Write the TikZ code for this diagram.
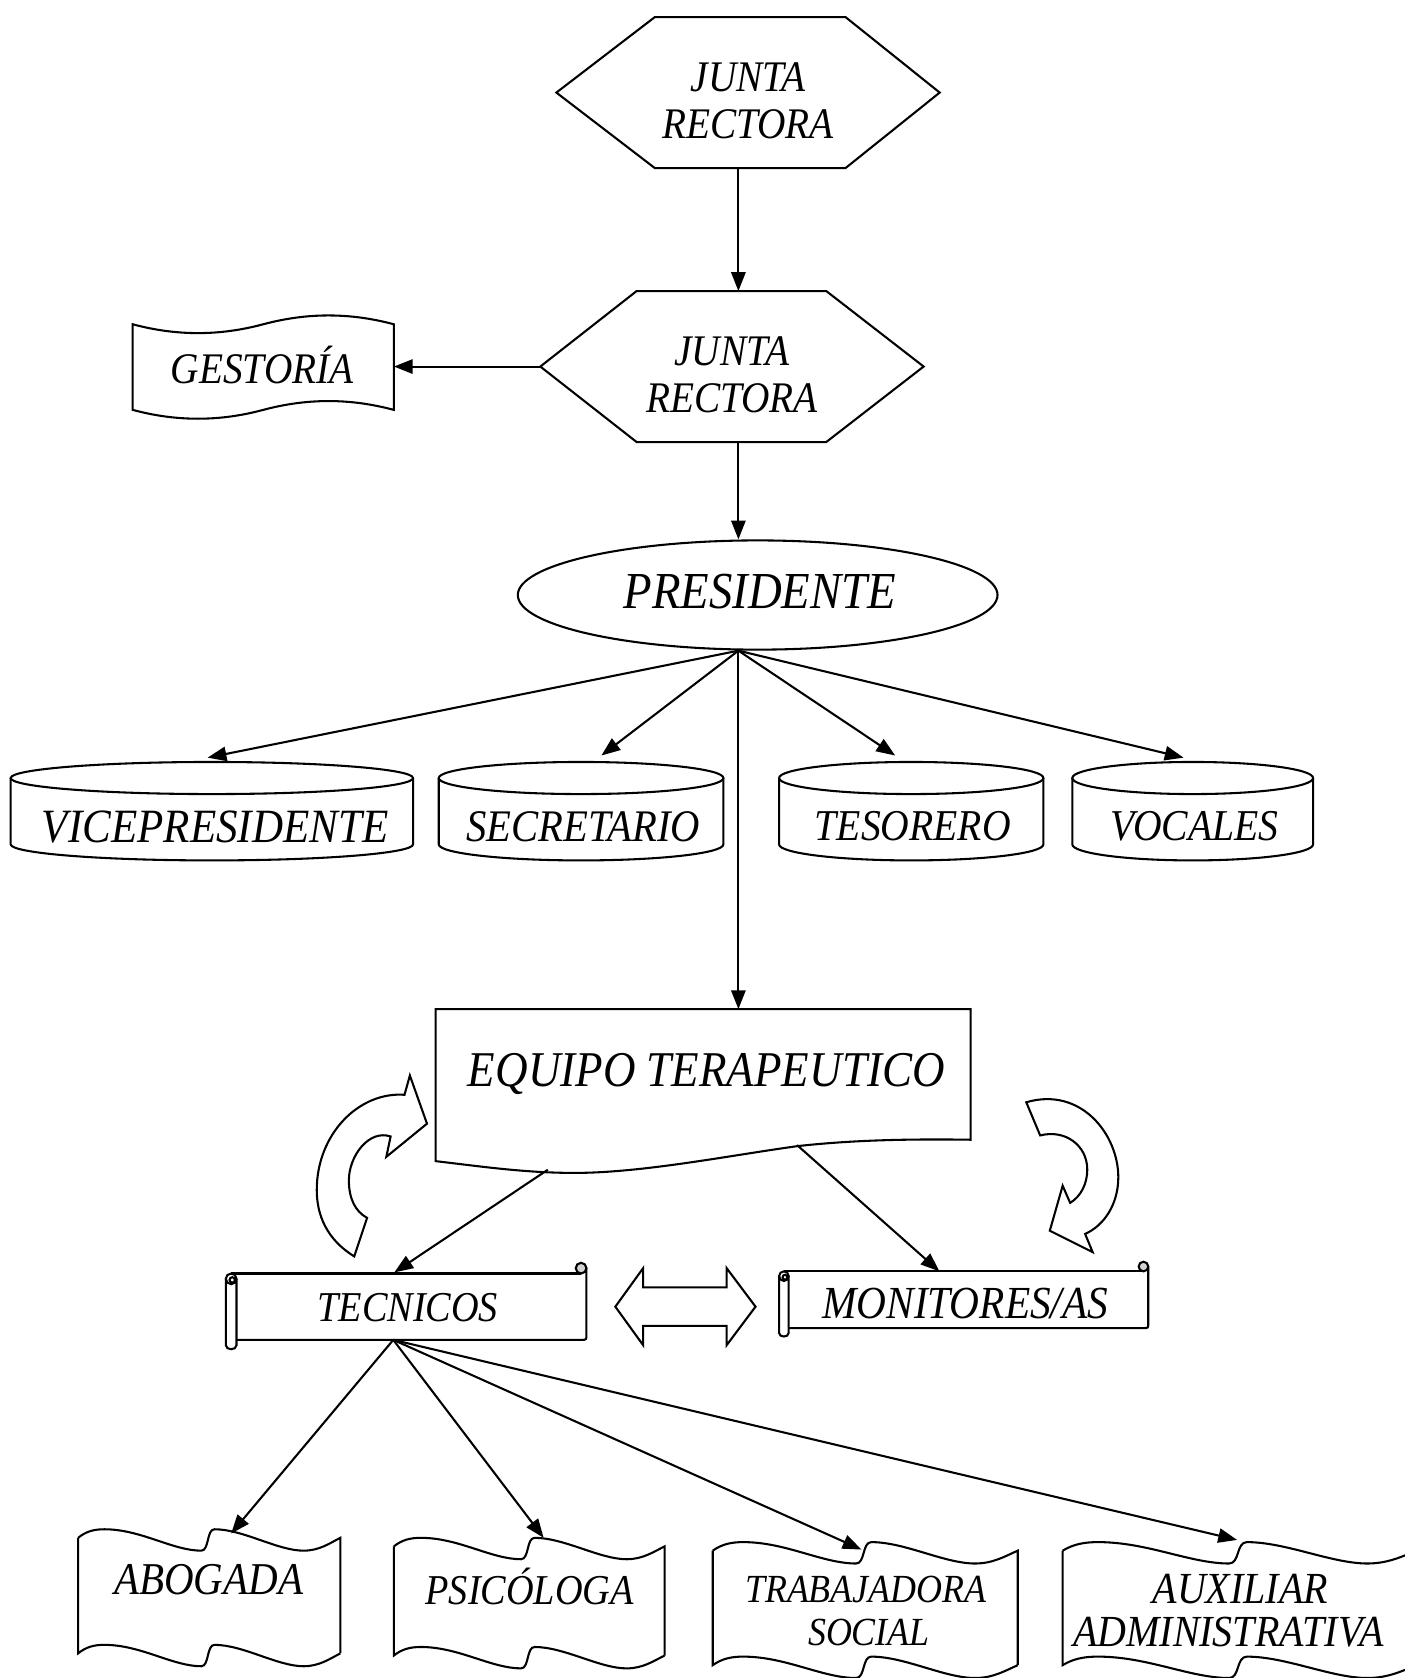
\documentclass[tikz,border=0pt]{standalone}
\usepackage{fontspec}
\newfontfamily\cors{Liberation Serif}[FakeStretch=0.9]
\usetikzlibrary{arrows.meta,calc,shapes.geometric}
% wave flag: x0, y0 (top baseline), width, height
\newcommand\wavebox[4]{%
  \begin{scope}[shift={(#1,#2)},xscale=#3/100]
    \draw (0,0) .. controls (3,-6) and (6,-8) .. (10,-8)
      .. controls (24,-8) and (36,12) .. (47,12)
      .. controls (50,12) and (49,-8) .. (52,-8)
      .. controls (63,-8) and (76,12) .. (86,12)
      .. controls (92,12) and (96,5) .. (100,0) -- (100,#4);
    \draw (0,0) -- (0,#4) .. controls (3,#4-6) and (6,#4-8) .. (10,#4-8)
      .. controls (24,#4-8) and (36,#4+12) .. (47,#4+12)
      .. controls (50,#4+12) and (49,#4-8) .. (52,#4-8)
      .. controls (63,#4-8) and (76,#4+12) .. (86,#4+12)
      .. controls (92,#4+12) and (96,#4+5) .. (100,#4);
  \end{scope}}
% horizontal scroll: L, R, T, B, tube width
\newcommand\hscroll[5]{%
  \draw (#1+#5/2,#3) -- (#2-#5/2,#3);
  \draw[fill=gray!35] (#2-#5/2,#3-#5/2) circle[radius=#5/2];
  \draw (#2,#3-#5/2) -- (#2,#4-#5/2) .. controls (#2,#4) .. (#2-#5/2,#4) -- (#1+#5,#4);
  \draw (#1,#3+#5/2) -- (#1,#4+#5/2) .. controls (#1,#4+#5) and (#1+#5,#4+#5) .. (#1+#5,#4+#5/2) -- (#1+#5,#3+#5/2);
  \draw (#1+#5/2,#3+#5/2) circle[radius=#5/2];
  \draw (#1+#5/2+1,#3+#5/2+1) circle[radius=#5/4];}
% cylinder: x0, x1, ytop, ybot
\newcommand\cylbox[4]{%
  \draw ({(#1+#2)/2},#3+15) ellipse [x radius={(#2-#1)/2}, y radius=15];
  \draw (#1,#3+15) -- (#1,#4-15) .. controls (#1,#4-6.7) and ({(#1+#2)/2-(#2-#1)/2*0.552},#4) .. ({(#1+#2)/2},#4)
    .. controls ({(#1+#2)/2+(#2-#1)/2*0.552},#4) and (#2,#4-6.7) .. (#2,#4-15) -- (#2,#3+15);}
\begin{document}
\begin{tikzpicture}[x=0.01cm,y=-0.01cm,line width=0.55pt,
  arr/.style={-{Triangle[length=5pt,width=3.8pt]}},
  bnd/.style={draw=none,inner sep=0pt,outer sep=0pt},
  lbl/.style={font=\cors\itshape\fontsize{#1}{#1}\selectfont,inner sep=0pt,anchor=base}]
\useasboundingbox[fill=white] (0,0) rectangle (1312,1568);
\coordinate (spine) at (690,0);

% ---- hexagon 1
\node[bnd,minimum width=3.58cm,minimum height=1.41cm] (jr1) at (699,86.5) {};
\draw (jr1.west) -- ($(jr1.north west)+(92,0)$) -- ($(jr1.north east)+(-88,0)$) -- (jr1.east)
  -- ($(jr1.south east)+(-88,0)$) -- ($(jr1.south west)+(92,0)$) -- cycle;
\node[lbl=11.6] (jr1a) at (699,85.5) {JUNTA};
\node[lbl=11.6] (jr1b) at (699,129.5) {RECTORA};

% ---- hexagon 2
\node[bnd,minimum width=3.58cm,minimum height=1.41cm] (jr2) at (684,342.5) {};
\draw (jr2.west) -- ($(jr2.north west)+(90,0)$) -- ($(jr2.north east)+(-91,0)$) -- (jr2.east)
  -- ($(jr2.south east)+(-91,0)$) -- ($(jr2.south west)+(90,0)$) -- cycle;
\node[lbl=11.6] (jr2a) at (684,341.5) {JUNTA};
\node[lbl=11.6] (jr2b) at (684,385.5) {RECTORA};

% ---- gestoria
\node[bnd,minimum width=2.44cm,minimum height=0.8cm] (gest) at (246,343) {};
\draw (124,303) .. controls (165,314) and (205,314) .. (246,303) .. controls (287,292) and (327,292) .. (368,303)
  -- (368,383) .. controls (327,372) and (287,372) .. (246,383) .. controls (205,394) and (165,394) .. (124,383) -- cycle;
\node[lbl=11.6] (gestt) at (245,358.5) {GESTORÍA};

% ---- presidente
\node[draw,ellipse,minimum width=4.48cm,minimum height=1.02cm,inner sep=0pt] (pres) at (708,556) {};
\node[lbl=13.8] (prest) at (710,569) {PRESIDENTE};

\draw[arr] (jr1.south -| spine) -- (jr2.north -| spine);
\draw[arr] (jr2.west) -- (jr2.west -| gest.east);
\draw[arr] (jr2.south -| spine) -- (pres.north -| spine);

% ---- cylinders
\cylbox{10}{386}{712}{804}
\cylbox{410}{676}{712}{804}
\cylbox{728}{975}{712}{804}
\cylbox{1002}{1227}{712}{804}
\node[bnd,minimum width=3.76cm,minimum height=0.92cm] (vice) at (198,758) {};
\node[bnd,minimum width=2.66cm,minimum height=0.92cm] (sec) at (543,758) {};
\node[bnd,minimum width=2.47cm,minimum height=0.92cm] (tes) at (851.5,758) {};
\node[bnd,minimum width=2.25cm,minimum height=0.92cm] (voc) at (1114.5,758) {};
\node[lbl=12.7] (vicet) at (201,787) {VICEPRESIDENTE};
\node[lbl=12] (sect) at (545,786) {SECRETARIO};
\node[lbl=11.7] (test) at (853,785.6) {TESORERO};
\node[lbl=11.7] (voct) at (1116,785.6) {VOCALES};

\draw[arr] (pres.south -| spine) -- ($(vice.north)+(-4,-4)$);
\draw[arr] (pres.south -| spine) -- ($(sec.north)+(19,-6)$);
\draw[arr] (pres.south -| spine) -- ($(tes.north)+(-15,-6)$);
\draw[arr] (pres.south -| spine) -- ($(voc.north)+(-8.5,-4)$);

% ---- equipo terapeutico
\node[bnd,minimum width=5cm,minimum height=1.54cm] (equipo) at (657,1020) {};
\draw (407,943) -- (907,943) -- (907,1065) .. controls (840,1064) and (790,1066) .. (745,1071)
  .. controls (680,1080) and (600,1096) .. (537,1096) .. controls (490,1096) and (450,1090) .. (407,1085) -- cycle;
\node[lbl=13.3] (equipot) at (660,1015.5) {EQUIPO TERAPEUTICO};
\draw[arr] (pres.south -| spine) -- (equipo.north -| spine);

% ---- curved arrows
\draw (331,1174) .. controls (305,1158) and (296,1135) .. (296,1112)
  .. controls (296,1060) and (335,1020) .. (378,1023) -- (383,1005) -- (399,1050) -- (361,1081) -- (365,1062)
  .. controls (345,1055) and (326,1080) .. (326,1103) .. controls (326,1120) and (332,1132) .. (343,1138) -- cycle;
\draw (959,1030) .. controls (1010,1015) and (1045,1060) .. (1045,1100)
  .. controls (1045,1125) and (1032,1145) .. (1014,1153) -- (1021,1170) -- (981,1150) -- (993,1108) -- (1000,1124)
  .. controls (1010,1118) and (1016,1106) .. (1016,1093) .. controls (1016,1070) and (995,1055) .. (972,1061) -- cycle;

% ---- tecnicos / monitores
\hscroll{211}{548}{1190}{1252}{10}
\node[bnd,minimum width=3.37cm,minimum height=0.82cm] (tec) at (379.5,1221) {};
\node[lbl=11.3] (tect) at (381,1235) {TECNICOS};
\hscroll{728}{1073}{1188}{1241}{9}
\node[bnd,minimum width=3.45cm,minimum height=0.7cm] (mon) at (900.5,1215) {};
\node[lbl=12.2] (mont) at (902,1232) {MONITORES/AS};

\draw[arr] ($(equipo.south west)+(105,-4)$) -- ($(tec.north)+(-11,9)$);
\draw[arr] ($(equipo.south west)+(338,-27)$) -- ($(mon.north)+(-22.7,8)$);

% ---- double arrow
\draw (575,1221) -- (601,1185) -- (601,1203) -- (679,1203) -- (679,1185) -- (706,1221)
  -- (679,1257) -- (679,1239) -- (601,1239) -- (601,1257) -- cycle;

% ---- bottom waves
\wavebox{73}{1437}{245}{108}
\wavebox{368}{1445}{253}{102}
\wavebox{666}{1449}{285}{107}
\wavebox{993}{1449}{331}{107}
\node[bnd,minimum width=2.45cm,minimum height=1.08cm] (ab) at (195.5,1491) {};
\node[bnd,minimum width=2.53cm,minimum height=1.02cm] (psi) at (494.5,1496) {};
\node[bnd,minimum width=2.85cm,minimum height=1.07cm] (tra) at (808.5,1502.5) {};
\node[bnd,minimum width=3.31cm,minimum height=1.07cm] (aux) at (1158.5,1502.5) {};
\node[lbl=12.1] (abt) at (195,1490) {ABOGADA};
\node[lbl=11.3] (psit) at (495,1499) {PSICÓLOGA};
\node[lbl=10.6] (trat) at (809,1497.3) {TRABAJADORA};
\node[lbl=10.6] (trat2) at (812,1537.3) {SOCIAL};
\node[lbl=11.8] (auxt) at (1159,1498.7) {AUXILIAR};
\node[lbl=11.8] (auxt2) at (1148,1538.7) {ADMINISTRATIVA};

\coordinate (tecsrc) at ($(tec.south)+(-12,-10)$);
\draw[arr] (tecsrc) -- ($(ab.north)+(20.5,-4)$);
\draw[arr] (tecsrc) -- ($(psi.north)+(13.5,-8)$);
\draw[arr] (tecsrc) -- ($(tra.north)+(-3.5,-1)$);
\draw[arr] (tecsrc) -- ($(aux.north)+(-2.5,-10)$);
\end{tikzpicture}
\end{document}
